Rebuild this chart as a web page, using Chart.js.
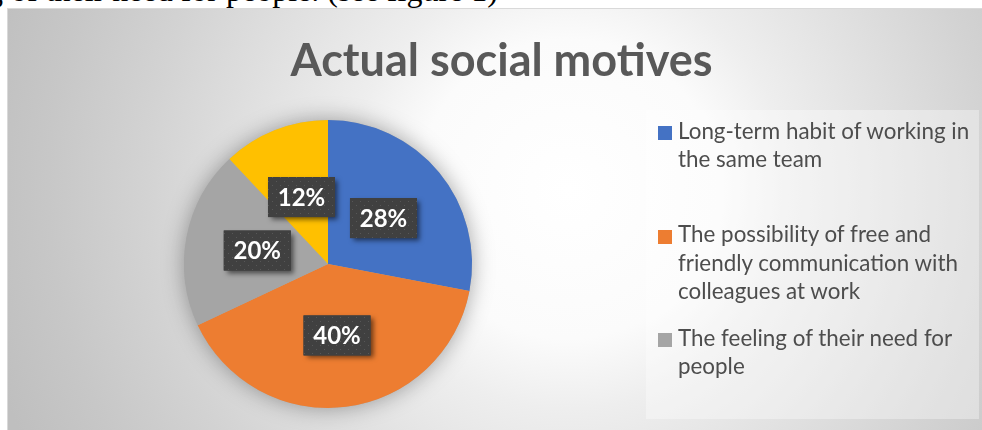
<!DOCTYPE html>
<html>
<head>
<meta charset="utf-8">
<script src="https://cdn.jsdelivr.net/npm/chart.js@4.4.1/dist/chart.umd.min.js"></script>
<style>
  html, body { margin: 0; padding: 0; width: 982px; height: 430px; overflow: hidden; background: #fff; }
  #caption {
    position: absolute; left: -13px; top: -26px; z-index: 5;
    font: 32px/32px "Liberation Serif", "Times New Roman", serif; color: #000; white-space: nowrap;
  }
  #frame {
    position: absolute; left: 7px; top: 8px; width: 974px; height: 421px;
    border-top: 1px solid #d9d9d9; border-left: 1px solid #d9d9d9;
    background: radial-gradient(circle at 560px 180px, #ffffff 0px, #fbfbfb 150px, #eeeeee 220px,
      #d3d3d3 420px, #c7c7c7 520px, #bfbfbf 600px);
  }
  #chartBox { position: absolute; left: 7px; top: 8px; width: 975px; height: 422px; }
  #title {
    position: absolute; left: 0; top: 37px; width: 1003px; text-align: center;
    font: bold 45px/45px Lato, sans-serif; color: #595959; white-space: nowrap;
  }
  #legend {
    position: absolute; left: 646px; top: 110px; width: 333px; height: 309px;
    box-sizing: border-box; padding-top: 6.6px; overflow: hidden;
    background: rgba(255, 255, 255, 0.35);
  }
  .item {
    position: relative; height: 103.5px; padding-left: 32px; box-sizing: border-box;
    font: 22.4px/28.5px Lato, sans-serif; color: #4d4d4d; white-space: nowrap;
  }
  .item .sw { position: absolute; left: 12px; top: 9.5px; width: 14px; height: 14px; }
</style>
</head>
<body>
<div id="frame"></div>
<div id="caption">g of their need for people. (see figure 1)</div>
<div id="chartBox"><canvas id="pie"></canvas></div>
<div id="title">Actual social motives</div>
<div id="legend"></div>

<script>
const labels = [
  ['Long-term habit of working in', 'the same team'],
  ['The possibility of free and', 'friendly communication with', 'colleagues at work'],
  ['The feeling of their need for', 'people'],
  ['Other motives']
];
const values = [28, 40, 20, 12];
const colors = ['#4472C4', '#ED7D31', '#A5A5A5', '#FFC000'];

// legend (html, so the labels can wrap like the original)
const legendEl = document.getElementById('legend');
labels.forEach((lines, i) => {
  const item = document.createElement('div');
  item.className = 'item';
  const sw = document.createElement('span');
  sw.className = 'sw';
  sw.style.background = colors[i];
  item.appendChild(sw);
  lines.forEach(line => {
    const row = document.createElement('div');
    row.textContent = line;
    item.appendChild(row);
  });
  legendEl.appendChild(item);
});

// dotted fill for the label boxes
const tile = document.createElement('canvas');
tile.width = 8; tile.height = 8;
const tctx = tile.getContext('2d');
tctx.fillStyle = '#404040';
tctx.fillRect(0, 0, 8, 8);
tctx.fillStyle = '#575757';
tctx.fillRect(1, 1, 1, 1);
tctx.fillRect(5, 5, 1, 1);

const pieShadow = {
  id: 'pieShadow',
  beforeDatasetsDraw(chart) {
    const arc = chart.getDatasetMeta(0).data[0];
    if (!arc) return;
    const { ctx } = chart;
    ctx.save();
    ctx.shadowColor = 'rgba(0, 0, 0, 0.35)';
    ctx.shadowBlur = 22;
    ctx.fillStyle = '#aaaaaa';
    ctx.beginPath();
    ctx.arc(arc.x, arc.y, arc.outerRadius, 0, Math.PI * 2);
    ctx.fill();
    ctx.restore();
  }
};

const boxLabels = {
  id: 'boxLabels',
  afterDatasetsDraw(chart) {
    const { ctx } = chart;
    const dots = ctx.createPattern(tile, 'repeat');
    ctx.save();
    ctx.font = 'bold 24px Lato';
    chart.getDatasetMeta(0).data.forEach((arc, i) => {
      const { x, y } = arc.tooltipPosition();
      const text = values[i] + '%';
      const w = Math.round(ctx.measureText(text).width + 19);
      const h = 40;
      ctx.save();
      ctx.shadowColor = 'rgba(0, 0, 0, 0.55)';
      ctx.shadowBlur = 5;
      ctx.shadowOffsetX = 3;
      ctx.shadowOffsetY = 3;
      ctx.fillStyle = '#404040';
      ctx.fillRect(x - w / 2, y - h / 2, w, h);
      ctx.restore();
      ctx.fillStyle = dots;
      ctx.fillRect(x - w / 2, y - h / 2, w, h);
      ctx.fillStyle = '#ffffff';
      ctx.textAlign = 'center';
      ctx.textBaseline = 'middle';
      ctx.fillText(text, x, y + 1);
    });
    ctx.restore();
  }
};

new Chart(document.getElementById('pie'), {
  type: 'pie',
  data: {
    labels: labels,
    datasets: [{
      data: values,
      backgroundColor: colors,
      borderWidth: 0
    }]
  },
  options: {
    responsive: true,
    maintainAspectRatio: false,
    animation: false,
    layout: {
      padding: { left: 177, right: 510, top: 112, bottom: 22 }
    },
    plugins: {
      legend: { display: false },
      tooltip: { enabled: false }
    }
  },
  plugins: [pieShadow, boxLabels]
});
</script>
</body>
</html>
